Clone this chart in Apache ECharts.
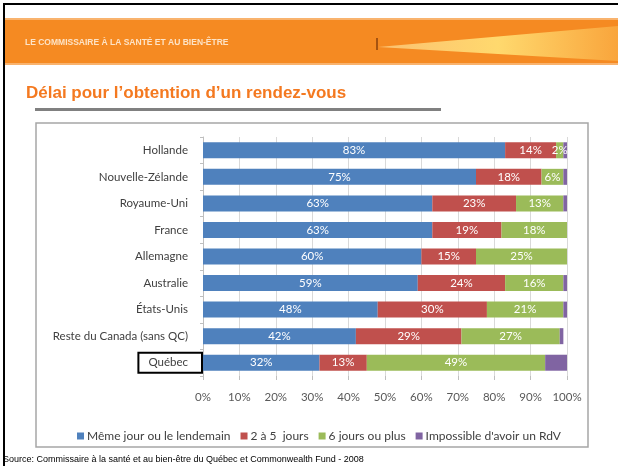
<!DOCTYPE html>
<html>
<head>
<meta charset="utf-8">
<script src="https://cdn.jsdelivr.net/npm/echarts@6/dist/echarts.min.js"></script>
<style>
  html, body { margin: 0; padding: 0; background: #fff; }
  #chart { width: 618px; height: 466px; }
</style>
</head>
<body>
<div id="chart"></div>
<script>
// pays, du haut vers le bas
var pays = ['Hollande', 'Nouvelle-Zélande', 'Royaume-Uni', 'France', 'Allemagne',
            'Australie', 'États-Unis', 'Reste du Canada (sans QC)', 'Québec'];
var memeJour   = [83, 75, 63, 63, 60, 59, 48, 42, 32];
var deuxCinq   = [14, 18, 23, 19, 15, 24, 30, 29, 13];
var sixPlus    = [2, 6, 13, 18, 25, 16, 21, 27, 49];
var impossible = [1, 1, 1, 0, 0, 1, 1, 1, 6];
var noms = ['Même jour ou le lendemain', '2 à 5  jours', '6 jours ou plus', 'Impossible d\'avoir un RdV'];
var couleurs = ['#4F81BD', '#C0504D', '#9BBB59', '#8064A2'];

var chart = echarts.init(document.getElementById('chart'));

function serie(nom, data, couleur, avecLabel) {
    return {
        name: nom,
        type: 'bar',
        stack: 'total',
        barWidth: 16,
        data: data,
        itemStyle: { color: couleur },
        label: {
            show: avecLabel,
            position: 'inside',
            color: '#fff',
            fontFamily: 'Lato',
            fontSize: 11.5,
            formatter: function (p) { return p.value >= 2 ? p.value + '%' : ''; }
        }
    };
}

var option = {
    backgroundColor: '#fff',
    animation: false,
    textStyle: { fontFamily: 'Lato' },
    grid: { left: 203, right: 51, top: 137, bottom: 90 },
    legend: {
        data: noms,
        top: 425,
        left: 72,
        width: 540,
        itemWidth: 7,
        itemHeight: 7,
        itemGap: 10,
        icon: 'rect',
        textStyle: { color: '#404040', fontSize: 12, fontFamily: 'Lato', padding: [0, 0, 0, -2] }
    },
    xAxis: {
        type: 'value',
        min: 0,
        max: 100,
        interval: 10,
        axisLine: { show: false },
        axisTick: { show: true, length: 4, lineStyle: { color: '#BFBFBF' } },
        splitLine: { lineStyle: { color: '#D9D9D9' } },
        axisLabel: { formatter: '{value}%', color: '#595959', fontSize: 11.5, margin: 15 }
    },
    yAxis: {
        type: 'category',
        data: pays,
        inverse: true,
        axisLine: { show: true, lineStyle: { color: '#BFBFBF' } },
        axisTick: { show: true, length: 3, lineStyle: { color: '#BFBFBF' } },
        axisLabel: {
            color: '#404040',
            fontSize: 11.5,
            margin: 1,
            formatter: function (v) { return v === 'Québec' ? '{qc|' + v + '}' : '{n|' + v + '}'; },
            rich: {
                n: {
                    color: '#404040',
                    fontSize: 11.5,
                    fontFamily: 'Lato',
                    padding: [0, 14, 0, 0]
                },
                qc: {
                    color: '#404040',
                    fontSize: 11.5,
                    fontFamily: 'Lato',
                    borderColor: '#000',
                    borderWidth: 2,
                    padding: [4, 14, 4, 10]
                }
            }
        }
    },
    series: [
        serie(noms[0], memeJour, couleurs[0], true),
        serie(noms[1], deuxCinq, couleurs[1], true),
        serie(noms[2], sixPlus, couleurs[2], true),
        serie(noms[3], impossible, couleurs[3], false)
    ],
    graphic: [
        // bordure noire de la diapo
        { type: 'rect', shape: { x: 3, y: 3, width: 2, height: 466 }, style: { fill: '#000' } },
        { type: 'rect', shape: { x: 3, y: 3, width: 618, height: 2 }, style: { fill: '#000' } },
        // bandeau orange
        { type: 'rect', shape: { x: 5, y: 18, width: 613, height: 47 }, style: { fill: '#F58A22' } },
        { type: 'rect', shape: { x: 5, y: 18, width: 613, height: 2 }, style: { fill: '#F9B36E' } },
        { type: 'rect', shape: { x: 5, y: 63, width: 613, height: 2 }, style: { fill: '#F9B36E' } },
        {
            type: 'polygon',
            shape: { points: [[378, 47], [618, 26], [618, 61]] },
            style: {
                fill: {
                    type: 'linear', x: 0, y: 0, x2: 1, y2: 0,
                    colorStops: [
                        { offset: 0, color: '#FBC070' },
                        { offset: 0.5, color: '#FFD96E' },
                        { offset: 1, color: '#F9A53C' }
                    ]
                }
            }
        },
        { type: 'rect', shape: { x: 376, y: 38, width: 2, height: 12 }, style: { fill: '#A65310' } },
        {
            type: 'text', left: 25, top: 38,
            style: { text: 'LE COMMISSAIRE À LA SANTÉ ET AU BIEN-ÊTRE', fill: '#FDE3C6', fontSize: 8.5, fontFamily: 'Liberation Sans', fontWeight: 'bold' }
        },
        // titre
        {
            type: 'text', left: 26, top: 85,
            style: { text: 'Délai pour l\u2019obtention d\u2019un rendez-vous', fill: '#F47920', fontSize: 17, fontWeight: 'bold', fontFamily: 'Liberation Sans' }
        },
        { type: 'rect', shape: { x: 35, y: 108, width: 406, height: 3 }, style: { fill: '#808080' } },
        // cadre du graphique
        {
            type: 'rect', z: -1, shape: { x: 36, y: 123, width: 552, height: 324 },
            style: { fill: 'none', stroke: '#A6A6A6', lineWidth: 1.5 }
        },
        // source
        {
            type: 'text', left: 3, top: 455,
            style: { text: 'Source: Commissaire à la santé et au bien-être du Québec et Commonwealth Fund - 2008', fill: '#000', fontSize: 9, fontFamily: 'Liberation Sans' }
        }
    ]
};

chart.setOption(option);
</script>
</body>
</html>
